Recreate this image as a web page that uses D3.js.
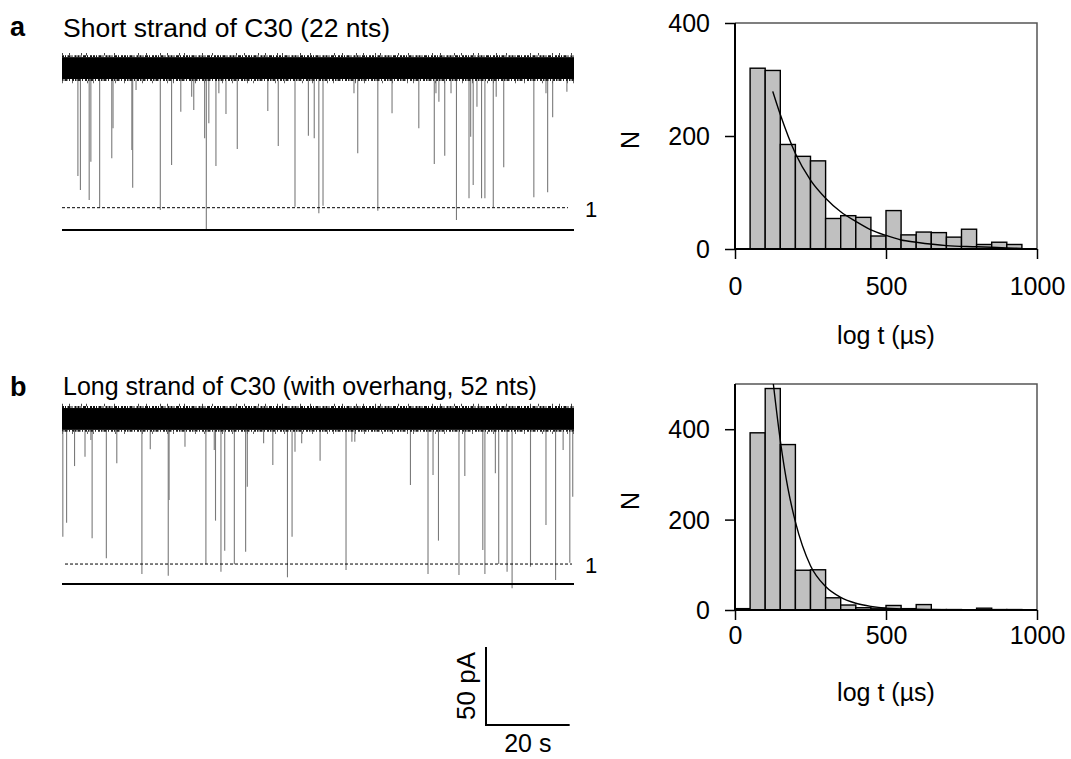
<!DOCTYPE html>
<html><head><meta charset="utf-8">
<script src="https://cdn.jsdelivr.net/npm/d3@7"></script>
<style>body{margin:0;background:#fff}svg{display:block}text{font-family:"Liberation Sans",Arial,sans-serif;fill:#000}</style>
</head><body><svg id="c" width="1071" height="759"></svg>
<script>
// ---------- data ----------
const panelLetters = ["a", "b"];
const traceTitles = ["Short strand of C30 (22 nts)", "Long strand of C30 (with overhang, 52 nts)"];
const levelLabels = ["1", "1"];
// trace a (time s, tip current pA)
const spikeTimeA = [3.8,4.4,6.5,6.9,9.0,11.9,12.2,16.7,16.9,17.7,23.5,26.2,28.4,31.0,31.5,34.1,34.5,35.1,36.8,37.5,39.2,41.9,49.2,51.7,55.7,58.9,60.3,61.4,62.4,69.8,70.7,75.5,78.9,85.3,89.0,89.4,90.1,91.5,93.0,94.3,97.3,97.7,98.3,99.2,100.3,101.1,103.1,103.8,105.6,112.8,115.7,116.1,117.3,120.7];
const spikeTipA = [34.6,25.6,19.2,43.8,14.3,46,65.2,51.3,27.1,89.7,12.8,41.7,75.8,85.4,76.9,58.8,0.4,68.4,41,87.6,74.4,51.9,76.3,53.8,14.9,60.4,58.8,10.7,15.6,87.6,49.2,12.4,74.8,65.2,42.3,87.6,82.2,47.6,87.6,6.4,20.3,59.8,28.8,79,20.3,20.3,14.6,85.4,40.2,21,87.6,24.2,72.2,88.7];
// trace b
const spikeTimeB = [0.2,1.1,3.0,5.5,6.9,7.2,10.6,13.1,19.1,21.1,25.4,25.6,29.4,34.4,36.4,36.7,38.0,38.9,41.2,43.9,44.3,48.2,50.4,53.9,55.0,55.7,57.3,61.7,67.9,69.3,70.0,83.3,87.5,88.7,90.0,94.9,96.3,100.6,101.1,103.6,104.4,106.4,107.6,112.0,115.7,118.0,119.8,121.4,122.1];
const spikeTipB = [30.3,39.3,75.6,81.6,92.3,29.3,16.5,77.4,6.4,86.3,5.3,53.8,88,12.6,85.9,40.6,7.9,21.3,12.6,20.7,62.4,90.2,76.3,4.3,30.3,84.8,90.2,79,9.0,91.2,91.2,63.5,6.4,69.9,27.8,5.8,69.2,21.8,6.4,71,12.8,7.9,-2.8,11.1,37.8,2.6,85.9,13.7,56];
const baselineCurrent = [103.8, 105.8];   // open-pore level, pA
const noiseHalf = [7, 7];                 // pA
const levelOne = [14.3, 12.8];            // dashed level "1", pA
const traceDuration = 122.4;              // s
const scaleBarValues = [50, 20];          // pA, s
const scaleBarLabels = ["50 pA", "20 s"];

// histograms
const binStartA = [50,100,150,200,250,300,350,400,450,500,550,600,650,700,750,800,850,900];
const countA    = [320,316,185,164,156,54,59,56,23,68,25,30,29,21,35,8,12,8];
const binStartB = [0,50,100,150,200,250,300,350,400,450,500,550,600,650,700,750,800,850,900];
const countB    = [3,392,490,366,88,89,27,11,5,4,10,3,12,1,1,0,4,1,1];
const binWidth = 50;
const fitA = [[125,279],[150,238],[200,169],[250,122],[300,90],[350,66],[400,49],[450,34],[500,24],[550,16],[600,12],[700,6],[800,4],[900,2],[950,1]];
const fitB = [[127,500],[150,375],[175,270],[200,195],[250,98],[300,52],[350,28],[400,15],[450,8],[500,4],[600,1.5],[700,0.6],[800,0.3],[960,0]];
const xTicks = [0, 500, 1000];
const yTicks = [0, 200, 400];
const yMax = [400, 500];
const xLabel = "log t (\u00b5s)";
const yLabel = "N";

// ---------- drawing ----------
const svg = d3.select("#c");
const FS = 25;

function trace(i, top0, times, tips) {
  const x = d3.scaleLinear([0, traceDuration], [62, 574]);
  const y = d3.scaleLinear([0, 120], [top0, top0 - 120 * 1.56]);
  const g = svg.append("g");
  g.append("text").attr("x", 10).attr("y", i === 0 ? 36 : 396).attr("font-size", 27).attr("font-weight", "bold").text(panelLetters[i]);
  g.append("text").attr("x", 63).attr("y", i === 0 ? 37 : 395).attr("font-size", i === 0 ? 26.5 : 25).text(traceTitles[i]);
  // spikes
  g.selectAll("line.sp").data(d3.zip(times, tips)).join("line")
    .attr("x1", d => x(d[0])).attr("x2", d => x(d[0]))
    .attr("y1", y(baselineCurrent[i] - noiseHalf[i])).attr("y2", d => y(d[1]))
    .attr("stroke", "#7a7a7a").attr("stroke-width", 1.1);
  // noise band
  const yt = y(baselineCurrent[i] + noiseHalf[i]);
  const yb = y(baselineCurrent[i] - noiseHalf[i]);
  g.append("rect").attr("x", x(0)).attr("width", x(traceDuration) - x(0))
    .attr("y", yt).attr("height", yb - yt).attr("fill", "#000");
  // fuzzy noise edges (irregular dash patterns)
  const fr = [[yt - 1, 2, "2,1,1,1.5,3,1,1,2,2,1", "#111"],
              [yt - 3, 2.5, "1,6,1,11,1,4,1,17,1,9,1,23,1,7,1,13", "#444"],
              [yb + 1, 2, "1.5,1,3,1.5,1,2,2,1", "#222"],
              [yb + 3, 2.5, "1,9,1,14,1,5,1,21,1,8,1,17", "#666"]];
  fr.forEach(f => g.append("line").attr("x1", x(0)).attr("x2", x(traceDuration))
    .attr("y1", f[0]).attr("y2", f[0]).attr("stroke", f[3]).attr("stroke-width", f[1]).attr("stroke-dasharray", f[2]));
  // dashed level
  g.append("line").attr("x1", x(0) + (i ? 3 : 0)).attr("x2", x(traceDuration) - (i ? 2 : 6))
    .attr("y1", y(levelOne[i])).attr("y2", y(levelOne[i]))
    .attr("stroke", "#000").attr("stroke-width", 1).attr("stroke-dasharray", "3,2");
  g.append("text").attr("x", 585).attr("y", y(levelOne[i]) + 9).attr("font-size", 22).text(levelLabels[i]);
  // zero line
  g.append("line").attr("x1", x(0)).attr("x2", x(traceDuration))
    .attr("y1", y(0)).attr("y2", y(0)).attr("stroke", "#000").attr("stroke-width", 2);
  return {x, y};
}

const ta = trace(0, 230, spikeTimeA, spikeTipA);
const tb = trace(1, 584, spikeTimeB, spikeTipB);

// scale bar
{
  const vlen = tb.y(0) - tb.y(scaleBarValues[0]);
  const hlen = tb.x(scaleBarValues[1]) - tb.x(0);
  const x0 = 486, y0 = 725;
  svg.append("path").attr("d", `M${x0},${y0 - vlen}V${y0}H${x0 + hlen}`)
    .attr("fill", "none").attr("stroke", "#000").attr("stroke-width", 2);
  svg.append("text").attr("transform", `translate(${x0 - 11},${y0 - vlen / 2}) rotate(-90)`)
    .attr("text-anchor", "middle").attr("font-size", 26).text(scaleBarLabels[0]);
  svg.append("text").attr("x", x0 + hlen / 2).attr("y", 752).attr("text-anchor", "middle")
    .attr("font-size", 25).text(scaleBarLabels[1]);
}

function hist(top, bottom, ymax, starts, counts, fit, labelY, titleY) {
  const x = d3.scaleLinear([0, 1000], [735, 1037]);
  const y = d3.scaleLinear([0, ymax], [bottom, top]);
  const g = svg.append("g");
  // frame top/right
  g.append("path").attr("d", `M${x(0)},${y(ymax)}H${x(1000)}V${y(0)}`)
    .attr("fill", "none").attr("stroke", "#555").attr("stroke-width", 1.5);
  g.selectAll("rect").data(d3.zip(starts, counts)).join("rect")
    .attr("x", d => x(d[0])).attr("width", d => x(d[0] + binWidth) - x(d[0]))
    .attr("y", d => y(d[1])).attr("height", d => y(0) - y(d[1]))
    .attr("fill", "#c0c0c0").attr("stroke", "#000").attr("stroke-width", 1.4);
  g.append("path").datum(fit)
    .attr("d", d3.line().x(d => x(d[0])).y(d => y(d[1])).curve(d3.curveMonotoneX))
    .attr("fill", "none").attr("stroke", "#000").attr("stroke-width", 1.4);
  const ax = g.append("g").attr("transform", `translate(0,${y(0)})`)
    .call(d3.axisBottom(x).tickValues(xTicks).tickSize(10).tickPadding(0).tickFormat(d3.format("d")));
  const ay = g.append("g").attr("transform", `translate(${x(0)},0)`)
    .call(d3.axisLeft(y).tickValues(yTicks).tickSize(10).tickPadding(15).tickFormat(d3.format("d")));
  [ax, ay].forEach(a => {
    a.select(".domain").attr("stroke", "#000").attr("stroke-width", 2);
    a.selectAll(".tick line").attr("stroke", "#000").attr("stroke-width", 1.5);
    a.selectAll("text").attr("font-size", FS).attr("font-family", '"Liberation Sans",Arial,sans-serif');
  });
  ax.select(".domain").attr("d", `M${x(0)},0H${x(1000)}`);
  ay.select(".domain").attr("d", `M0,${y(ymax)}V${y(0)}`);
  ax.selectAll(".tick text").attr("dy", null).attr("y", labelY - y(0));
  ay.selectAll(".tick text").attr("dy", "0.35em");
  g.append("text").attr("x", 886).attr("y", titleY).attr("text-anchor", "middle").attr("font-size", FS).text(xLabel);
  g.append("text").attr("transform", `translate(639,${(y(0) + y(ymax)) / 2 + 4}) rotate(-90)`)
    .attr("text-anchor", "middle").attr("font-size", FS).text(yLabel);
}
hist(23, 249, yMax[0], binStartA, countA, fitA, 295, 344);
hist(384, 610, yMax[1], binStartB, countB, fitB, 644, 701);
</script></body></html>
